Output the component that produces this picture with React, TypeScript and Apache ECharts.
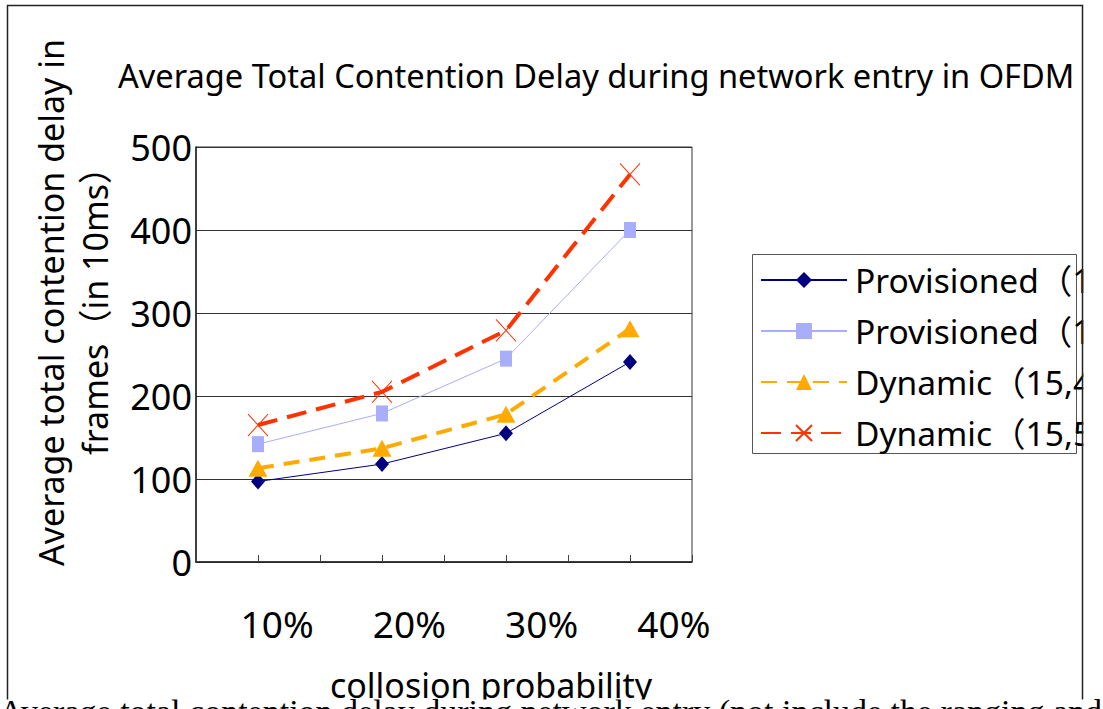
import React, { useEffect, useRef } from 'react';
import * as echarts from 'echarts';

const categories = ['10%', '20%', '30%', '40%'];
const provisionedA = [97, 118, 155, 241];
const provisionedB = [142, 179, 245, 400];
const dynamicA = [113, 137, 178, 281];
const dynamicB = [165, 205, 279, 467];

const seriesKeys = ['provA', 'provB', 'dynA', 'dynB'];
const legendLabels: Record<string, string> = {
  provA: 'Provisioned（1',
  provB: 'Provisioned（1',
  dynA: 'Dynamic（15,4',
  dynB: 'Dynamic（15,5',
};

const titleText = 'Average Total Contention Delay during network entry in OFDM';
const yTitle = 'Average total contention delay in\nframes（in 10ms）';
const xTitle = 'collosion probability';
const captionText = 'Average total contention delay during network entry (not include the ranging and';

const FONT = "'Noto Sans', 'Noto Sans CJK JP', sans-serif";

const toPoints = (vals: number[]) => vals.map((v, i) => [i + 0.5, v]);

export default function App() {
  const ref = useRef<HTMLDivElement>(null);
  useEffect(() => {
    if (!ref.current) return;
    const chart = echarts.init(ref.current, undefined, { renderer: 'svg' });
    chart.setOption({
      animation: false,
      backgroundColor: '#fff',
      title: {
        text: titleText,
        left: 118,
        top: 59,
        padding: 0,
        textStyle: { fontSize: 32.6, fontWeight: 'normal', color: '#000', fontFamily: FONT, lineHeight: 32 },
      },
      legend: {
        orient: 'vertical',
        left: 760,
        top: 260,
        padding: 0,
        itemWidth: 86,
        itemHeight: 20,
        itemGap: 11,
        data: seriesKeys,
        formatter: (name: string) => legendLabels[name],
        textStyle: { fontSize: 33.5, color: '#000', fontFamily: FONT, lineHeight: 40, padding: [0, 0, 0, 3] },
      },
      grid: [
        { left: 196, top: 147, width: 496, height: 415, show: true, borderColor: '#333', borderWidth: 1, backgroundColor: 'transparent' },
        { left: 211, top: 147, width: 529, height: 415 },
      ],
      xAxis: [
        {
          type: 'value', gridIndex: 0, min: 0, max: 4, interval: 0.5,
          axisLine: { show: true, lineStyle: { color: '#222', width: 1.5 } },
          axisTick: { show: true, inside: true, length: 7, lineStyle: { color: '#444' } },
          axisLabel: { show: false },
          splitLine: { show: false },
        },
        {
          type: 'category', gridIndex: 1, data: categories, boundaryGap: true,
          axisLine: { show: false }, axisTick: { show: false }, splitLine: { show: false },
          axisLabel: { fontSize: 37, color: '#000', fontFamily: FONT, margin: 43, lineHeight: 37 },
          name: xTitle, nameLocation: 'middle', nameGap: 106,
          nameTextStyle: { fontSize: 34, color: '#000', fontFamily: FONT, lineHeight: 34, padding: [0, 0, 0, 31] },
        },
      ],
      yAxis: [
        {
          type: 'value', gridIndex: 0, min: 0, max: 500, interval: 100,
          axisLine: { show: true, lineStyle: { color: '#222', width: 1.5 } },
          axisTick: { show: false },
          axisLabel: { fontSize: 36, color: '#000', fontFamily: FONT, margin: 4, padding: [15, 0, 0, 0] },
          splitLine: { show: true, lineStyle: { color: '#333', width: 1 } },
        },
        { type: 'value', gridIndex: 1, min: 0, max: 500, show: false, splitLine: { show: false } },
      ],
      series: [
        {
          name: 'provA', type: 'line', xAxisIndex: 0, yAxisIndex: 0, data: toPoints(provisionedA),
          symbol: 'diamond', symbolSize: [14, 16],
          lineStyle: { color: '#000080', width: 1 },
          itemStyle: { color: '#000080' },
        },
        {
          name: 'provB', type: 'line', xAxisIndex: 0, yAxisIndex: 0, data: toPoints(provisionedB),
          symbol: 'rect', symbolSize: [12, 16],
          lineStyle: { color: '#A9AEFA', width: 1 },
          itemStyle: { color: '#A9AEFA' },
        },
        {
          name: 'dynA', type: 'line', xAxisIndex: 0, yAxisIndex: 0, data: toPoints(dynamicA),
          symbol: 'triangle', symbolSize: [19, 17],
          lineStyle: { color: '#FFAA00', width: 4, type: [16, 10] },
          itemStyle: { color: '#FFAA00' },
        },
        {
          name: 'dynB', type: 'line', xAxisIndex: 0, yAxisIndex: 0, data: toPoints(dynamicB),
          symbol: 'path://M0,0L10,10M10,0L0,10', symbolSize: [20, 22],
          lineStyle: { color: '#FF3300', width: 4, type: [20, 10] },
          itemStyle: { color: '#FF3300', borderColor: '#FF3300', borderWidth: 1 },
        },
      ],
      graphic: [
        {
          type: 'rect', z: 95,
          shape: { x: 7.5, y: 5.5, width: 1075, height: 740 },
          style: { fill: 'none', stroke: '#222', lineWidth: 1.5 },
        },
        {
          type: 'rect', z: 90,
          shape: { x: 1083.3, y: 0, width: 30, height: 709 },
          style: { fill: '#fff' },
        },
        {
          type: 'rect', z: 99,
          shape: { x: 0, y: 699.5, width: 1103, height: 20 },
          style: { fill: '#fff' },
        },
        {
          type: 'rect', z: 3,
          shape: { x: 752.5, y: 254.5, width: 324, height: 199 },
          style: { fill: 'none', stroke: '#555', lineWidth: 1 },
        },
        {
          type: 'text', z: 10,
          x: 73, y: 302.5, rotation: Math.PI / 2,
          style: { text: yTitle, fontSize: 34, fontFamily: FONT, fill: '#000', align: 'center', verticalAlign: 'middle', lineHeight: 44 },
        },
        {
          type: 'text', z: 100,
          x: -1, y: 711,
          style: { text: captionText, fontSize: 34, fontFamily: "'Liberation Serif', 'Times New Roman', serif", fill: '#000', align: 'left', verticalAlign: 'middle' },
        },
      ],
    });
    return () => chart.dispose();
  }, []);
  return <div ref={ref} style={{ position: 'fixed', left: 0, top: 0, width: 1103, height: 709, background: '#fff' }} />;
}
